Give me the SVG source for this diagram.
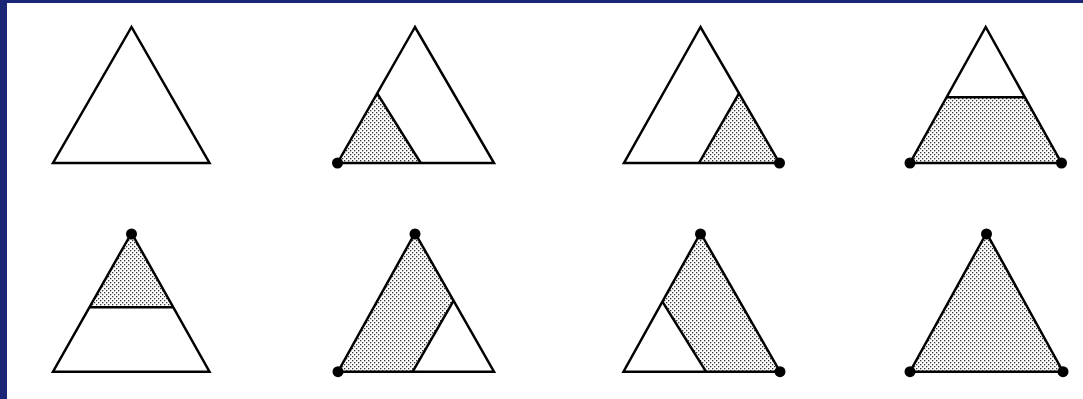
<svg xmlns="http://www.w3.org/2000/svg" width="1083" height="399" viewBox="0 0 1083 399">
<defs>
<pattern id="dots" width="4" height="4" patternUnits="userSpaceOnUse">
<rect width="4" height="4" fill="#fff"/>
<rect x="0" y="0" width="1.3" height="1.3" fill="#333"/>
<rect x="2" y="2" width="1.3" height="1.3" fill="#333"/>
</pattern>
</defs>
<style>
.tri{fill:none;stroke:#000;stroke-width:2.5;stroke-linejoin:miter}
.sh{fill:url(#dots);stroke:none}
.ln{stroke:#000;stroke-width:2.5;fill:none}
.dot{fill:#000}
</style>
<rect width="1083" height="399" fill="#fff"/>
<rect x="0" y="0" width="1083" height="3" fill="#1c2677"/>
<rect x="0" y="0" width="7" height="399" fill="#1c2677"/>

<g id="t1">
<polygon class="tri" points="131.5,27 53,163 209.5,163"/>
</g>

<g id="t2">
<polygon class="sh" points="377.2,93.3 337.5,163 420.7,163"/>
<polygon class="tri" points="415,27 337.5,163 494,163"/>
<polyline class="ln" points="377.2,93.3 420.7,163"/>
<circle class="dot" cx="337.5" cy="163" r="5.5"/>
</g>

<g id="t3">
<polygon class="sh" points="739,93.3 699,163 779.5,163"/>
<polygon class="tri" points="700.5,27 624,163 779.5,163"/>
<polyline class="ln" points="739,93.3 699,163"/>
<circle class="dot" cx="779.5" cy="163" r="5.5"/>
</g>

<g id="t4">
<polygon class="sh" points="946.6,97.3 1024.9,97.3 1061.5,163 910,163"/>
<polygon class="tri" points="985.7,27 910,163 1061.5,163"/>
<polyline class="ln" points="946.6,97.3 1024.9,97.3"/>
<circle class="dot" cx="910" cy="163" r="5.5"/>
<circle class="dot" cx="1061.5" cy="163" r="5.5"/>
</g>

<g id="t5">
<polygon class="sh" points="131.5,233 89.5,307.3 173.3,307.3"/>
<polygon class="tri" points="131.5,233 53,371.7 209.5,371.7"/>
<polyline class="ln" points="89.5,307.3 173.3,307.3"/>
<circle class="dot" cx="131.5" cy="234" r="5.5"/>
</g>

<g id="t6">
<polygon class="sh" points="415,233 338,371.7 412.7,371.7 453.6,300.7"/>
<polygon class="tri" points="415,233 338,371.7 494,371.7"/>
<polyline class="ln" points="412.7,371.7 453.6,300.7"/>
<circle class="dot" cx="415" cy="234" r="5.5"/>
<circle class="dot" cx="338" cy="371.7" r="5.5"/>
</g>

<g id="t7">
<polygon class="sh" points="700.5,233 662.4,301.7 706,371.7 780,371.7"/>
<polygon class="tri" points="700.5,233 623.5,371.7 780,371.7"/>
<polyline class="ln" points="662.4,301.7 706,371.7"/>
<circle class="dot" cx="700.5" cy="234" r="5.5"/>
<circle class="dot" cx="780" cy="371.7" r="5.5"/>
</g>

<g id="t8">
<polygon class="sh" points="986.5,233 910,371.7 1063,371.7"/>
<polygon class="tri" points="986.5,233 910,371.7 1063,371.7"/>
<circle class="dot" cx="986.5" cy="234" r="5.5"/>
<circle class="dot" cx="910" cy="371.7" r="5.5"/>
<circle class="dot" cx="1063" cy="371.7" r="5.5"/>
</g>
</svg>
